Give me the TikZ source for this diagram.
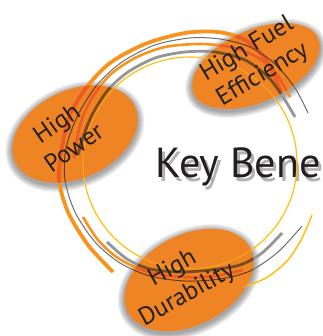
\documentclass[tikz,border=0pt]{standalone}
\usepackage{fontspec}
\setmainfont{PT Sans}
\usetikzlibrary{shapes.geometric,calc}

\definecolor{benorange}{HTML}{EF8424}
\definecolor{lineorange}{HTML}{F7941D}
\definecolor{redorange}{HTML}{EE5A24}
\definecolor{thingray}{HTML}{6D6E71}
\definecolor{midgray}{HTML}{939598}
\definecolor{throughbrown}{HTML}{7A4A1E}
\definecolor{ringyellow}{HTML}{FDC010}
\definecolor{textdark}{HTML}{231F20}

\tikzset{
  orangearc/.style={draw=lineorange},
  thingrayarc/.style={draw=thingray},
  midgrayarc/.style={draw=midgray},
  yellowarc/.style={draw=ringyellow},
  benefit/.style={ellipse, fill=benorange, inner sep=0pt},
  benefittext/.style={text=textdark, align=center, inner sep=0pt,
    font=\fontsize{25}{30}\selectfont},
}

% the rings round the three benefits
\newcommand\drawrings{%
  \draw[yellowarc, line width=1.2pt] (O) ellipse [x radius=107pt, y radius=106pt];
  \draw[orangearc, line width=3.8pt] plot[smooth] coordinates {(113,272) (88,245)
    (68,212) (59,180) (62,147) (70,115) (86,88) (110,63) (145,44) (185,33)
    (218,32) (245,40) (266,60) (281,92)};
  \draw[thingrayarc, line width=1pt] plot[smooth] coordinates {(308,113) (295,88)
    (275,64) (250,47) (220,39) (190,38) (155,45) (122,62) (97,85) (78,115)
    (66,148) (65,180) (75,212) (95,242) (120,263) (150,276) (185,281) (220,279)
    (250,271) (278,252) (302,226)};
  \draw[orangearc, line width=2.6pt] plot[smooth] coordinates {(290,97) (275,72)
    (255,56) (230,47) (200,44) (165,47) (135,58) (110,75) (92,98) (80,125)
    (74,158)};
  \draw[midgrayarc, line width=2.8pt] plot[smooth] coordinates {(295,117) (283,97)
    (268,77) (245,60) (215,52) (185,52) (155,58) (128,72) (108,90) (92,115)
    (82,140) (78,155)};
  \draw[orangearc, line width=2.6pt] plot[smooth] coordinates {(83,217) (98,240)
    (118,258) (145,271) (180,277) (215,276) (243,270)};
  \draw[midgrayarc, line width=2.8pt] plot[smooth] coordinates {(107,242) (127,259)
    (150,269) (180,272) (210,270) (240,265) (262,253) (282,233)};
  \draw[yellowarc, line width=1.5pt] plot[smooth] coordinates {(312,215) (301,240)
    (287,261) (266,278) (243,287)};
}

\begin{document}
\begin{tikzpicture}[x=1pt, y=-1pt]
  \useasboundingbox (0,0) rectangle (322,336);
  \coordinate (O) at (190,163);
  \coordinate (P) at (75,134);
  \coordinate (F) at (256,66);
  \coordinate (D) at (189,280);

  % title with its shadow
  \node[anchor=base west, text=black, opacity=0.3, font=\fontsize{42}{48}\selectfont]
    at (155,182) {Key Bene};
  \node[anchor=base west, text=textdark, font=\fontsize{42}{48}\selectfont]
    (key) at (152,178) {Key Bene};

  % soft shadows under the ellipses
  \foreach \c/\a/\b/\t in {P/66/44/25, F/68/36/24, D/69/45/28}
    \foreach \g in {1,...,7}
      \fill[black, opacity=0.06, rotate around={\t:($(\c)+(-1,2)$)}]
        ($(\c)+(-1,2)$) ellipse [x radius={(\a+\g)*1pt}, y radius={(\b+\g)*1pt}];

  \drawrings

  \node[benefit, minimum width=132pt, minimum height=88pt, rotate=25] (power) at (P) {};
  \node[benefit, minimum width=136pt, minimum height=72pt, rotate=24] (fuel) at (F) {};
  \node[benefit, minimum width=138pt, minimum height=90pt, rotate=28] (durability) at (D) {};

  % rings seen through the ellipses
  \foreach \c/\a/\b/\t in {P/66/44/25, F/68/36/24, D/69/45/28} {
    \begin{scope}
      \clip[rotate around={\t:(\c)}] (\c) ellipse [x radius={\a*1pt}, y radius={\b*1pt}];
      \tikzset{orangearc/.style={draw=redorange},
        thingrayarc/.style={draw=throughbrown!80!black},
        midgrayarc/.style={draw=throughbrown},
        yellowarc/.style={draw=ringyellow!50!benorange}}
      \drawrings
    \end{scope}
  }

  \node[benefittext, rotate=35] (power-label) at ($(P)+(-10,1)$) {High\\Power};
  \node[benefittext, rotate=31] (fuel-label) at ($(F)+(-1,-4)$) {High Fuel\\Efficiency};
  \node[benefittext, rotate=29] (durability-label) at ($(D)+(-9,2)$) {High\\Durability};
\end{tikzpicture}
\end{document}
